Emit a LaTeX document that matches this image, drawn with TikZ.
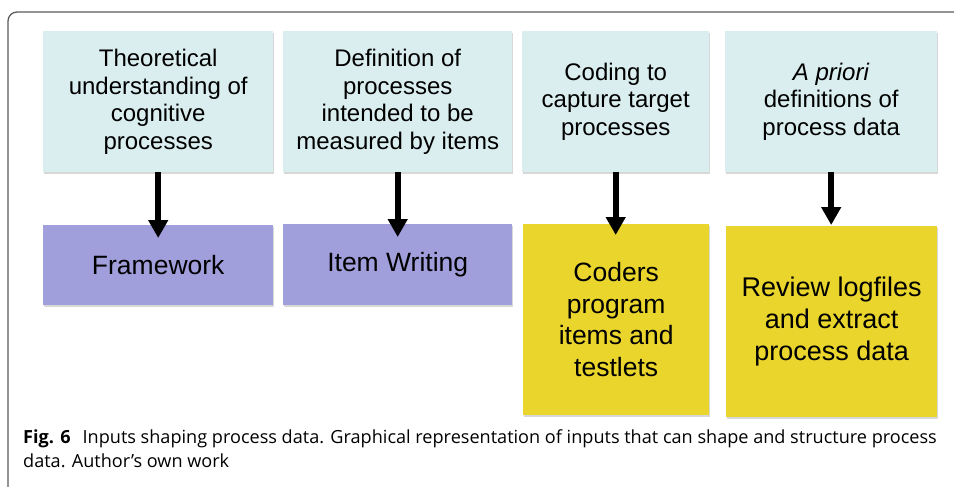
\documentclass[tikz,border=0pt]{standalone}
\usepackage{fontspec}
\setsansfont{Liberation Sans}
\newfontfamily\capfont{Open Sans}
\usetikzlibrary{arrows.meta,shadows}
\definecolor{Cy}{RGB}{218, 238, 239}
\definecolor{Pu}{RGB}{161, 158, 220}
\definecolor{Ye}{RGB}{234, 213, 45}
\definecolor{Fr}{RGB}{90, 90, 90}

\tikzset{
  inbox/.style={fill=Cy, anchor=north west, inner sep=0pt, align=center,
    minimum height=141pt, drop shadow={shadow xshift=1pt, shadow yshift=-1.5pt, fill=black!30, opacity=.5},
    font=\sffamily\fontsize{24}{27.6}\selectfont},
  outbox/.style={anchor=north west, inner sep=0pt, align=center,
    drop shadow={shadow xshift=1pt, shadow yshift=-1.5pt, fill=black!30, opacity=.5},
    font=\sffamily\fontsize{26.5}{31.5}\selectfont},
  arr/.style={line width=6pt, -{Triangle[length=18pt,width=19pt]}}
}

\begin{document}
\begin{tikzpicture}[x=1pt, y=-1pt]
    \useasboundingbox (0,0) rectangle (954,487);

    % marco
    \draw[Fr, line width=1.3pt, rounded corners=9pt] (8,490) -- (8,12) -- (960,12);

    % entradas (arriba)
    \node[inbox, minimum width=230pt] (t1) at (43,31) {Theoretical\\understanding of\\cognitive\\processes};
    \node[inbox, minimum width=229pt] (t2) at (283,31) {Definition of\\processes\\intended to be\\measured by items};
    \node[inbox, minimum width=187pt] (t3) at (522,31) {Coding to\\capture target\\processes};
    \node[inbox, minimum width=212pt] (t4) at (725,31) {\textit{A priori}\\definitions of\\process data};

    % resultados (abajo)
    \node[outbox, fill=Pu, minimum width=230pt, minimum height=80pt] (b1) at (43,225) {Framework};
    \node[outbox, fill=Pu, minimum width=229pt, minimum height=81pt] (b2) at (283,224) {Item Writing};
    \node[outbox, fill=Ye, minimum width=186pt, minimum height=191pt] (b3) at (523,224) {Coders\\program\\items and\\testlets};
    \node[outbox, fill=Ye, minimum width=211pt, minimum height=191pt,
      font=\sffamily\fontsize{27}{32}\selectfont] (b4) at (726,226) {Review logfiles\\and extract\\process data};

    % flechas
    \draw[arr, shorten >=-13pt] (t1.south) -- (t1.south |- b1.north);
    \draw[arr, shorten >=-13pt] (t2.south) -- (t2.south |- b2.north);
    \draw[arr, shorten >=-11pt] (t3.south) -- (t3.south |- b3.north);
    \draw[arr, shorten >=1pt] (t4.south) -- (t4.south |- b4.north);

    % pie de figura
    \node[anchor=north west, inner sep=0pt, align=left,
      font=\capfont\fontsize{18.1}{24}\selectfont] (cap) at (23,429)
      {\textbf{Fig. 6}\hspace{12pt}Inputs shaping process data. Graphical representation of inputs that can shape and structure process\\data. Author’s own work};
\end{tikzpicture}
\end{document}
